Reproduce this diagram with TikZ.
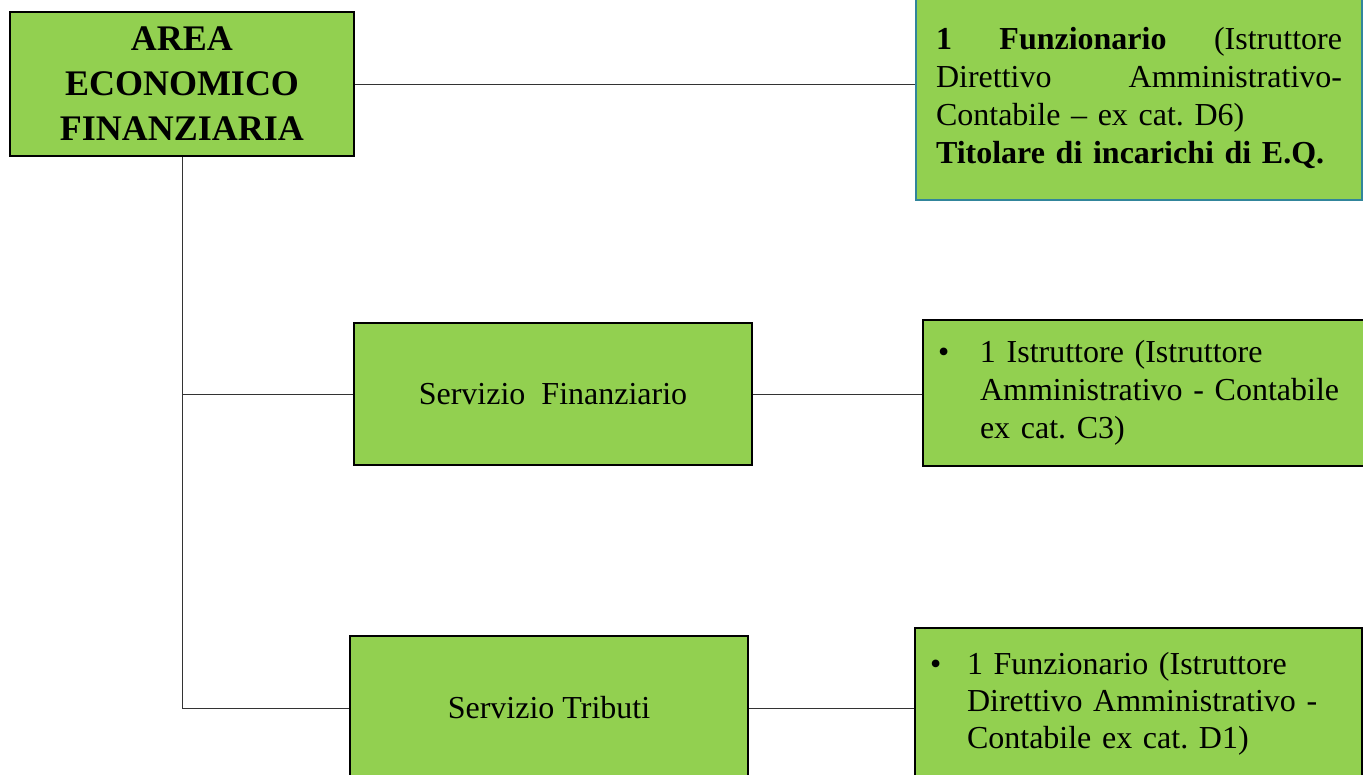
\documentclass[tikz,border=0pt]{standalone}
\usepackage{fontspec}
\setmainfont{Liberation Serif}
\usepackage{tikz}
\frenchspacing
\definecolor{boxgreen}{RGB}{146,208,80}
\definecolor{boxteal}{RGB}{49,133,155}
\tikzset{
  unitbox/.style={draw=black, line width=2pt, fill=boxgreen, inner sep=0pt, align=center},
  staffbox/.style={unitbox, align=left, inner xsep=15pt},
  link/.style={draw=black!80, line width=1pt}
}
\newcommand{\staffitem}[3]{\makebox[#1][l]{\textbullet}\parbox[t]{#2}{#3}}
\begin{document}
\begin{tikzpicture}[x=1pt, y=-1pt]
\useasboundingbox (0,0) rectangle (1363,774);
\clip (0,0) rectangle (1363,774);

\node[unitbox, minimum width=344pt, minimum height=144pt, font=\fontsize{36}{45}\selectfont\bfseries] (area) at (182,84) {AREA\\ECONOMICO\\FINANZIARIA};
\node[unitbox, minimum width=398pt, minimum height=142pt, font=\fontsize{32}{38}\selectfont] (fin) at (553,394) {Servizio\ \ Finanziario};
\node[unitbox, minimum width=398pt, minimum height=144pt, font=\fontsize{32}{38}\selectfont] (trib) at (549,708) {Servizio Tributi};

\node[staffbox, draw=boxteal, text width=406pt, inner xsep=20pt, minimum height=205pt, font=\fontsize{32}{38}\selectfont] (eq) at (1139,97.5)
  {\textbf{1}\hfill\textbf{Funzionario}\hfill(Istruttore\\
   Direttivo\hfill Amministrativo-\\
   Contabile – ex cat. D6)\\
   \textbf{Titolare di incarichi di E.Q.}};
\node[staffbox, text width=413pt, minimum height=146pt, font=\fontsize{32}{38}\selectfont] (ist) at (1144.5,393)
  {\staffitem{42pt}{370pt}{1 Istruttore (Istruttore\\Amministrativo - Contabile\\ex cat. C3)}};
\node[staffbox, text width=417pt, minimum height=152pt, font=\fontsize{32}{37}\selectfont] (fun) at (1138.5,704)
  {\staffitem{37pt}{380pt}{1 Funzionario (Istruttore\\Direttivo Amministrativo -\\Contabile ex cat. D1)}};

\coordinate (trunk) at (area.south |- trib.west);
\draw[link] (area.south) -- (trunk);
\draw[link] (area.south |- fin.west) -- (fin.west);
\draw[link] (trunk) -- (trib.west);
\draw[link] (area.east) -- (area.east -| eq.west);
\draw[link] (fin.east) -- (fin.east -| ist.west);
\draw[link] (trib.east) -- (trib.east -| fun.west);
\end{tikzpicture}
\end{document}
